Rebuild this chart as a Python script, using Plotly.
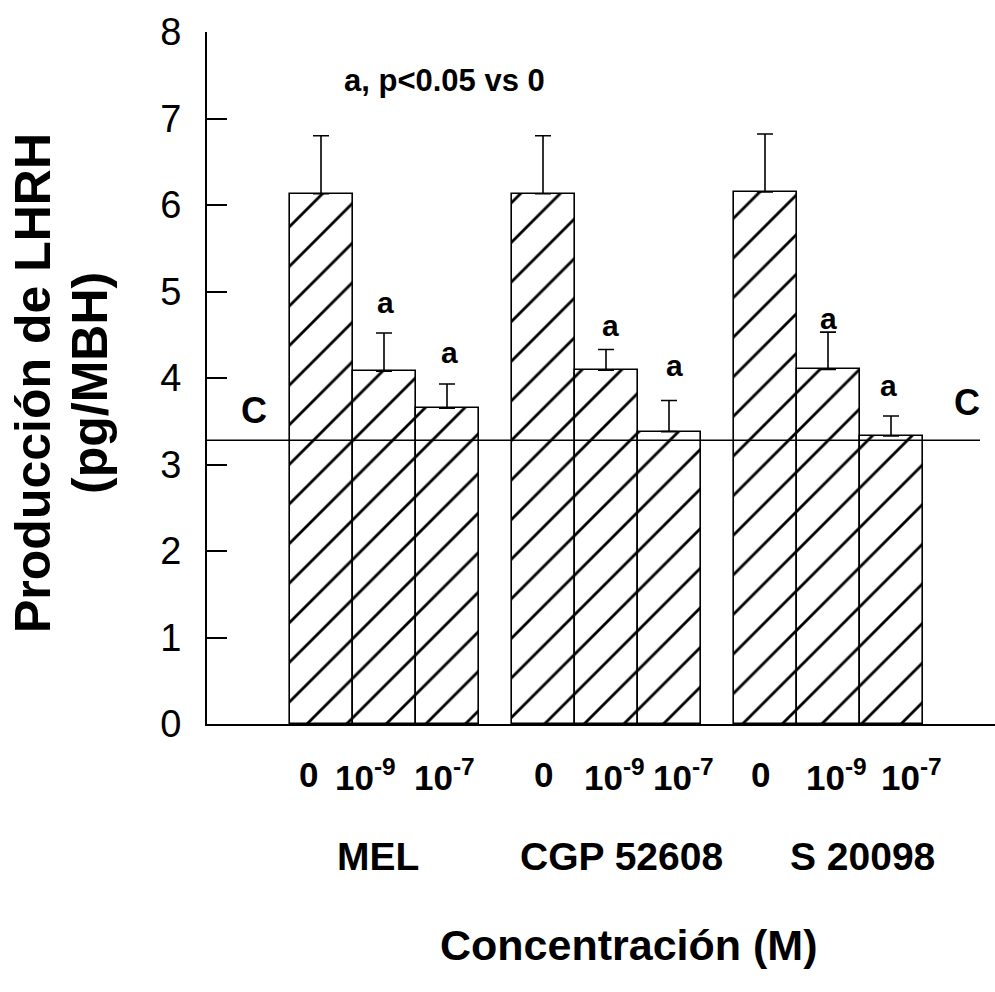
import plotly.graph_objects as go

# ---------------- data ----------------
groups = ["MEL", "CGP 52608", "S 20098"]
concentrations = ["0", "10<sup>-9</sup>", "10<sup>-7</sup>"]
means = [
    [6.13, 4.08, 3.65],   # MEL
    [6.13, 4.09, 3.38],   # CGP 52608
    [6.15, 4.10, 3.33],   # S 20098
]
errors = [
    [0.67, 0.44, 0.28],
    [0.67, 0.24, 0.36],
    [0.67, 0.43, 0.23],
]
significant = [
    [False, True, True],
    [False, True, True],
    [False, True, True],
]
control_value = 3.28
note_text = "a, p<0.05 vs 0"
y_title_lines = ["Producción de LHRH", "(pg/MBH)"]
x_title = "Concentración (M)"
y_ticks = [0, 1, 2, 3, 4, 5, 6, 7, 8]

# ---------------- layout constants (pixel-like x units) ----------------
FIRST = 114
BAR_W = 63
GROUP_STEP = 222
FONT = "Liberation Sans, Arial, Helvetica, sans-serif"

# label placements
cat_label_x = [101, 158, 237, 336, 407, 476, 553, 629, 704]
group_label_x = [171, 414, 655]
sig_label_y = [[None, 4.87, 4.30], [None, 4.61, 4.15], [None, 4.69, 3.91]]
sig_label_dx = [[0, 1, 2], [0, 4, 5], [0, 0, -3]]
y_title_shift = [-174, -117]

xs, ys, es = [], [], []
for g in range(len(groups)):
    for i in range(len(concentrations)):
        xs.append(FIRST + g * GROUP_STEP + i * BAR_W)
        ys.append(means[g][i])
        es.append(errors[g][i])

fig = go.Figure()
fig.add_trace(go.Bar(
    x=xs, y=ys, width=BAR_W,
    marker=dict(
        color="white",
        line=dict(color="black", width=1.6),
        pattern=dict(shape="/", size=28, solidity=0.1,
                     fgcolor="black", bgcolor="white", fillmode="replace"),
    ),
    error_y=dict(type="data", array=es, arrayminus=[0] * len(es),
                 symmetric=False, color="black", thickness=1.6, width=8),
    showlegend=False,
))

annotations = []
# significance letters
for g in range(len(groups)):
    for i in range(len(concentrations)):
        if significant[g][i]:
            annotations.append(dict(
                x=FIRST + g * GROUP_STEP + i * BAR_W + sig_label_dx[g][i],
                y=sig_label_y[g][i], xref="x", yref="y",
                text="a", showarrow=False,
                font=dict(family=FONT, size=30, color="black", weight="bold"),
                xanchor="center", yanchor="middle"))

# control labels
annotations.append(dict(x=47, y=3.63, xref="x", yref="y", text="C", showarrow=False,
                        font=dict(family=FONT, size=36, color="black", weight="bold"),
                        xanchor="center", yanchor="middle"))
annotations.append(dict(x=760, y=3.72, xref="x", yref="y", text="C", showarrow=False,
                        font=dict(family=FONT, size=36, color="black", weight="bold"),
                        xanchor="center", yanchor="middle"))
# note
annotations.append(dict(x=237, y=7.445, xref="x", yref="y", text=note_text, showarrow=False,
                        font=dict(family=FONT, size=31, color="black", weight="bold"),
                        xanchor="center", yanchor="middle"))
# category labels under bars
for lx, lt in zip(cat_label_x, concentrations * len(groups)):
    annotations.append(dict(x=lx, y=-0.073, xref="x", yref="paper", text=lt,
                            showarrow=False,
                            font=dict(family=FONT, size=35, color="black", weight="bold"),
                            xanchor="center", yanchor="middle"))
# group labels
for gx, gname in zip(group_label_x, groups):
    annotations.append(dict(x=gx, y=-0.191, xref="x", yref="paper", text=gname,
                            showarrow=False,
                            font=dict(family=FONT, size=39, color="black", weight="bold"),
                            xanchor="center", yanchor="middle"))
# x title
annotations.append(dict(x=421, y=-0.319, xref="x", yref="paper", text=x_title,
                        showarrow=False,
                        font=dict(family=FONT, size=43, color="black", weight="bold"),
                        xanchor="center", yanchor="middle"))
# y title (two lines)
for txt, sh in zip(y_title_lines, y_title_shift):
    annotations.append(dict(x=0, y=0.5, xref="paper", yref="paper", xshift=sh, yshift=-5,
                            text=txt, textangle=-90, showarrow=False,
                            font=dict(family=FONT, size=50, color="black", weight="bold"),
                            xanchor="center", yanchor="middle"))

fig.update_layout(
    width=995, height=992,
    margin=dict(l=207, r=0, t=32, b=268),
    paper_bgcolor="white", plot_bgcolor="white",
    annotations=annotations,
    shapes=[dict(type="line", xref="x", yref="y", x0=0, x1=773,
                 y0=control_value, y1=control_value,
                 line=dict(color="black", width=1.6), layer="above")],
    xaxis=dict(range=[0, 788], showgrid=False, zeroline=False,
               showline=True, linecolor="black", linewidth=2,
               ticks="", showticklabels=False),
    yaxis=dict(range=[0, 8], showgrid=False, zeroline=False,
               showline=True, linecolor="black", linewidth=2,
               ticks="inside", ticklen=20, tickwidth=2, tickcolor="black",
               tickvals=y_ticks,
               tickfont=dict(family=FONT, size=38, color="black"),
               ticklabelstandoff=16),
    bargap=0,
)

fig.write_html("out.html")
